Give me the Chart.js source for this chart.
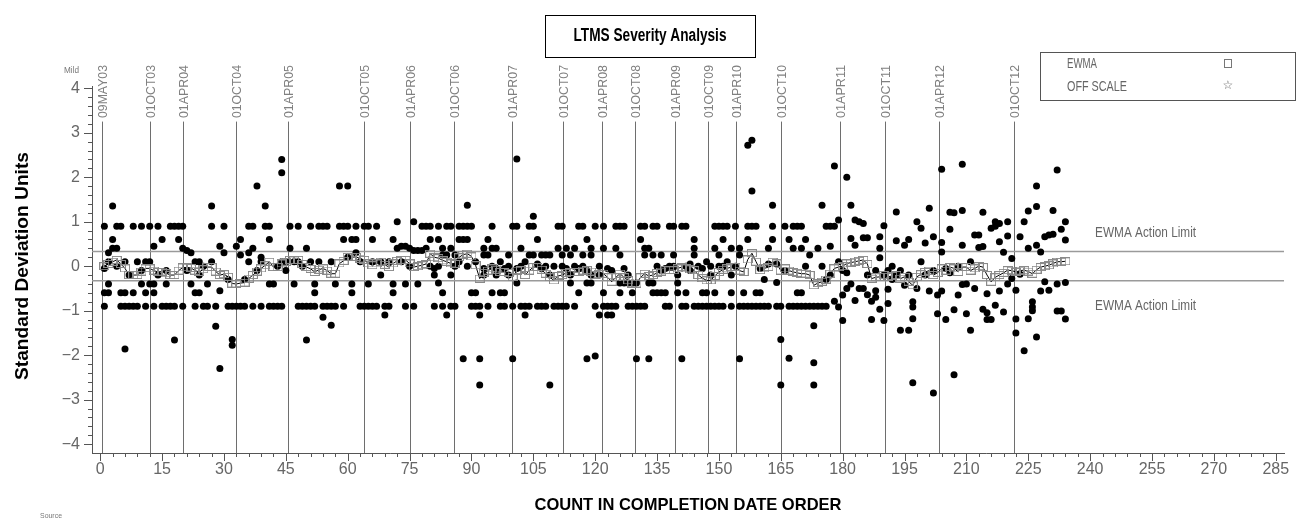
<!DOCTYPE html>
<html>
<head>
<meta charset="utf-8">
<title>LTMS Severity Analysis</title>
<script src="https://cdn.jsdelivr.net/npm/chart.js@4.4.1/dist/chart.umd.min.js"></script>
<style>
  html, body { margin: 0; padding: 0; background: #fff; overflow: hidden; }
  canvas { display: block; }
</style>
</head>
<body>
<canvas id="chart" width="1300" height="518"></canvas>
<script>
// ---- axis ticks -------------------------------------------------------
const xTickValues = [0, 15, 30, 45, 60, 75, 90, 105, 120, 135, 150, 165, 180, 195, 210, 225, 240, 255, 270, 285];
const yTickValues = [-4, -3, -2, -1, 0, 1, 2, 3, 4];

// ---- calendar markers (position in completion-count units) -----------
const dateLabels = ['09MAY03', '01OCT03', '01APR04', '01OCT04', '01APR05', '01OCT05', '01APR06',
  '01OCT06', '01APR07', '01OCT07', '01APR08', '01OCT08', '01APR09', '01OCT09', '01APR10',
  '01OCT10', '01APR11', '01OCT11', '01APR12', '01OCT12'];
const dateCounts = [0.5, 12, 20, 33, 45.6, 63.9, 75.2, 85.8, 99.9, 112.1, 121.6, 129.7,
  139.3, 147.3, 154.1, 165, 179.3, 190.3, 203.4, 221.6];

// ---- EWMA action limits ------------------------------------------------
const actionLimits = [0.33, -0.33];

// ---- severity results per test, in completion order (test 1, 2, ...) ---
const testResults = [
  [0.9,-0.05,-0.6,-0.9], [0.3,0.1,-0.4,-0.6], [1.35,0.6,0.4], [0.9,0.4,0], [0.9,-0.6,-0.9], [0.1,-0.6,-0.9,-1.86],
  [-0.2,-0.9], [0.9,-0.6,-0.9], [0.1,-0.9], [0.9,-0.1,-0.4], [0.1,-0.6,-0.9], [0.9,0.1,-0.4],
  [0.45,-0.4,-0.6,-0.9], [0.9,-0.2], [0.6,-0.9], [-0.1,-0.4,-0.9], [0.9,-0.9], [0.9,-0.9,-1.66],
  [0.9,0.6], [0.9,0.4,-0.9], [0.35,-0.1], [0.3,-0.4], [0.1,-0.6,-0.9], [0.1,-0.2,-0.6],
  [0,-0.9], [-0.4,-0.9], [1.35,0.9,0.1], [-0.9,-1.35], [0.45,-0.55,-2.3], [0.9,0.3],
  [-0.3,-0.9], [-0.9,-1.65,-1.78], [0.45,-0.9], [0.6,0.25,-0.9], [-0.3,-0.9], [0.9,0.3,0.1],
  [0.9,0.4,-0.9], [1.8,-0.1], [0.2,0.1,-0.9], [1.35,0.9], [0.9,0.6,-0.4,-0.9], [-0.4,-0.9],
  [0,-0.9], [2.4,2.1,0.1,-0.9], [0.1,-0.1], [0.9,0.4], [0.1,-0.4], [0.9,0.1,-0.9],
  [0,-0.9], [0.4,-0.9,-1.66], [0.9,0.1,-0.9], [-0.4,-0.6,-0.9], [0.9,0.1], [0.9,-0.9,-1.15],
  [0.9,-0.9], [0.1,-0.9,-1.33], [-0.4,-0.9], [1.8,0.9], [0.9,0.6,-0.9], [1.8,0.9,0.2],
  [0.6,-0.4,-0.6], [0.9,0.6,0.3], [0.1,-0.9], [0.9,-0.9], [0.9,-0.4,-0.9], [0.6,0.1,-0.9],
  [0.9,-0.9], [0.1,-0.2], [-0.9,-1.1], [0.1,-0.9], [0.6,-0.4,-0.6], [1.0,0.4],
  [0.45,0.1], [0.45,-0.4,-0.9], [0.4,0], [1.0,0.35,-0.9], [0.35,-0.4], [0.9,0.35],
  // tests 79 - 157
  [0.9,0.4], [0.9,0.6,0], [-0.05,-0.2,-0.9], [0.9,0.6,0,-0.38], [0.4,0.25,-0.6,-0.9], [0.9,0.25,-1.1],
  [0.9,0.4,-0.2,-0.9], [0.25,0,-0.9], [0.9,0.6,0.1], [0.9,0.6,-2.08], [1.37,0.9,0.6,0], [0.9,-0.6,-0.9],
  [0.1,-0.6,-0.9], [-0.9,-1.1,-2.08,-2.67], [0.4,0.25,-0.05,-0.2], [0.6,0.25,-0.9], [0.9,0.4,0,-0.6], [0.4,-0.05,-0.2],
  [0.1,-0.6,-0.9], [-0.05,-0.6,-0.9], [0.25,0,-0.2], [0.9,-0.9,-2.08], [2.41,0.9,-0.05,-0.38], [0.4,0,-0.9],
  [0.1,-0.9,-1.1], [0.9,0.25,-0.9], [1.12,0.9,0.25], [0.6,0.05,-0.9], [0.25,-0.05,-0.9], [0.25,0,-0.9],
  [0.25,-0.2,-2.67], [0,-0.9], [0.9,0.4,-0.9], [0.9,0.25,0,-0.9], [0.4,-0.05,-0.9], [0.25,-0.2,-0.38],
  [0.4,0,-0.9], [0.9,-0.05,-0.6], [0.9,0.25,0], [0.6,-0.1,-0.38,-2.08], [0.4,0.25,-0.2,-0.38], [0.9,-0.9,-2.02],
  [0,-0.2,-1.1], [0.9,0.4,-0.6,-0.9], [-0.05,-0.9,-1.1], [-0.1,-0.9,-1.1], [0.9,0.4,-0.9], [0.9,0.25,-0.38,-0.6],
  [0.9,-0.05,-0.38], [-0.2,-0.38,-0.9], [-0.38,-0.6,-0.9], [-0.38,-0.9,-2.08], [0.9,0.6,-0.9], [0.9,0.4,0.25,-0.9],
  [0.4,-0.38,-2.08], [0.9,0.25,-0.38,-0.6], [0.9,0,-0.6], [0.25,-0.1,-0.6], [-0.05,-0.6,-0.9], [0.9,0,-0.9],
  [0.9,0.25,0], [-0.2,-0.38,-0.6], [0.9,-0.9,-2.08], [0.9,0,-0.6,-0.9], [0.05,-0.1], [0.6,0.4,0.25,-0.9],
  [0,-0.9], [-0.05,-0.6,-0.9], [0.1,-0.6,-0.9], [0,-0.2,-0.9], [0.9,0.4,-0.6,-0.9], [0.9,0.25,0,-0.9],
  [0.9,0.6,0,-0.9], [0.9,0.1], [0.4,-0.2,-0.6,-0.9], [0.9,0], [0.4,0.25,-0.9,-2.08], [-0.6,-0.9],
  [2.72,0.9,0.6,-0.9],
  // tests 158 - 234
  [2.83,1.69,0.9,-0.9], [0.9,-0.6,-0.9], [-0.05,-0.6,-0.9], [-0.3,-0.9], [0.4,0.05,-0.9],
  [1.37,0.9,0.6], [0.05,-0.37,-0.9], [-0.9,-1.65,-2.67], [0.9,-0.1], [0.6,-0.9,-2.07], [0.9,0.4,-0.9],
  [0.9,-0.6,-0.9], [0.9,0.4,-0.6,-0.9], [0.6,0,-0.9], [0.25,-0.9], [-0.9,-1.34,-2.17,-2.67], [0.4,-0.9],
  [1.37,0,-0.9], [0.9,-0.3,-0.9], [0.9,0.45,-0.2], [2.25,0.9,-0.79], [1.04,0.1,-0.92], [-0.1,-0.65,-1.22],
  [2.0,-0.15,-0.5], [1.37,0.62,-0.4], [1.04,0.47,-0.77], [1.0,-0.5], [0.96,0.64,-0.5], [0.64,-0.2,-0.64],
  [-0.79,-1.2], [-0.1,-0.55,-0.7], [0.66,0.4,0.19,-0.97], [0.91,-0.2,-1.22], [-0.1,-0.52,-0.84], [0,-0.3],
  [1.22,0.57,-0.2], [-0.1,-1.44], [0.47,-0.43], [0.6,-0.2,-1.44], [-0.8,-0.92,-1.18,-2.62], [1.0,-0.5],
  [0.85,0.1], [0.52,-0.2], [1.3,-0.56], [0.66,-0.1,-2.85], [-0.65,-1.07], [2.18,0.53,0.32,-0.56],
  [-0.05,-1.2], [1.21,0.83,-0.15], [1.2,-0.98,-2.44], [0,-0.65], [2.29,1.25,0.47,-0.41], [-0.4,-1.07],
  [0.1,-1.44], [0.7,-0.5], [0.7,0.42], [1.21,0.44,-0.97], [-0.62,-1.05,-1.2], [0.85,-1.2],
  [1.0,0.9,-0.88], [0.96,0.55,-0.56], [0.31,-1.03], [1.0,0.68,-0.4], [0.17,-0.28], [-0.54,-1.19,-1.5],
  [0.66,-0.18], [1.0,-1.9], [1.24,0.4,-1.18], [-0.8,-0.92,-1.0], [1.8,1.34,0.47,-1.59], [0.32,-0.56],
  [0.66,-0.35], [0.7,-0.54], [1.25,0.72], [2.16,-0.4,-1.01], [0.83,-1.01], [1.0,0.59,-0.37,-1.19]
];

// ---- EWMA of the severity, one value per test ---------------------------
const ewma = [
  0.00, 0.05, 0.10, 0.14, 0.05, -0.05, -0.20, -0.20, -0.20, -0.12,
  -0.05, -0.05, -0.10, -0.13, -0.12, -0.16, -0.20, -0.20, -0.10, -0.03,
  -0.03, -0.04, -0.10, -0.13, -0.07, -0.02, -0.02, -0.12, -0.20, -0.18,
  -0.24, -0.39, -0.40, -0.38, -0.37, -0.28, -0.20, -0.12, -0.05, 0.02,
  0.10, -0.02, -0.02, 0.06, 0.10, 0.14, 0.13, 0.14, 0.05, -0.02,
  -0.06, -0.13, -0.08, -0.05, -0.10, -0.17, -0.17, 0.06, 0.12, 0.21,
  0.20, 0.21, 0.17, 0.14, 0.06, 0.02, 0.06, 0.10, 0.03, -0.02,
  0.06, 0.12, 0.14, 0.14, 0.06, -0.02, 0.00, 0.02, 0.05, 0.28,
  0.20, 0.18, 0.13, 0.10, 0.06, 0.05, 0.20, 0.26, 0.28, 0.22,
  0.02, -0.28, -0.15, -0.10, -0.05, -0.08, -0.13, -0.13, -0.15, -0.24,
  -0.10, -0.09, -0.20, -0.10, -0.02, -0.02, -0.08, -0.17, -0.25, -0.32,
  -0.22, -0.20, -0.15, -0.13, -0.13, -0.13, -0.10, -0.09, -0.12, -0.20,
  -0.18, -0.17, -0.25, -0.35, -0.25, -0.17, -0.25, -0.32, -0.39, -0.39,
  -0.25, -0.17, -0.22, -0.20, -0.15, -0.12, -0.09, -0.09, -0.09, -0.05,
  -0.02, -0.05, -0.07, -0.09, -0.20, -0.27, -0.32, -0.32, -0.22, -0.13,
  -0.08, -0.05, -0.02, -0.02, -0.10, -0.13, 0.15, 0.29, 0.10, -0.09,
  -0.05, -0.02, 0.10, 0.06, -0.10, -0.05, -0.10, -0.13, -0.15, -0.17,
  -0.17, -0.20, -0.43, -0.38, -0.35, -0.30, -0.17, -0.05, -0.02, 0.00,
  0.06, 0.08, 0.10, 0.12, 0.14, 0.05, -0.28, -0.25, -0.24, -0.20,
  -0.24, -0.22, -0.20, -0.28, -0.24, -0.35, -0.43, -0.24, -0.18, -0.13,
  -0.10, -0.20, -0.15, -0.05, -0.10, -0.02, -0.05, -0.13, -0.02, -0.02,
  -0.10, -0.05, 0.00, -0.02, -0.20, -0.35, -0.25, -0.20, -0.15, -0.09,
  -0.10, -0.13, -0.10, -0.09, -0.12, -0.17, -0.08, -0.02, 0.00, 0.02,
  0.06, 0.10, 0.10, 0.11
];

// ---- derived point lists --------------------------------------------------
const resultPoints = [];
testResults.forEach((vals, i) => vals.forEach(v => resultPoints.push({ x: i + 1, y: v })));
const ewmaPoints = ewma.map((v, i) => ({ x: i + 1, y: v }));

const X_MIN = -2, X_MAX = 287, Y_MIN = -4.2, Y_MAX = 4.05;

// open rectangle marker for the EWMA
const ewmaMarker = document.createElement('canvas');
ewmaMarker.width = 10; ewmaMarker.height = 8;
(function () {
  const m = ewmaMarker.getContext('2d');
  m.strokeStyle = '#8a8a8a';
  m.lineWidth = 1;
  m.strokeRect(0.5, 0.5, 9, 7);
})();

const SANS = '"Liberation Sans", Arial, sans-serif';

// draws a string squeezed or stretched horizontally to a given width
function fittedText(ctx, text, x, y, width, align) {
  const w = ctx.measureText(text).width;
  ctx.save();
  ctx.translate(x, y);
  ctx.scale(width / w, 1);
  ctx.textAlign = align;
  ctx.fillText(text, 0, 0);
  ctx.restore();
}

const decorations = {
  id: 'decorations',
  beforeDatasetsDraw(chart) {
    const { ctx, chartArea, scales: { x, y } } = chart;
    ctx.save();
    // calendar reference lines with rotated labels
    const lineTop = y.getPixelForValue(3.25);
    ctx.strokeStyle = '#6e6e6e';
    ctx.lineWidth = 1;
    dateCounts.forEach((c, i) => {
      const px = Math.round(x.getPixelForValue(c)) + 0.5;
      ctx.beginPath();
      ctx.moveTo(px, lineTop);
      ctx.lineTo(px, chartArea.bottom);
      ctx.stroke();
      ctx.save();
      ctx.translate(px, y.getPixelForValue(3.33));
      ctx.rotate(-Math.PI / 2);
      ctx.fillStyle = '#808080';
      ctx.font = '13px ' + SANS;
      ctx.textBaseline = 'middle';
      fittedText(ctx, dateLabels[i], 0, 1, 53, 'left');
      ctx.restore();
    });
    ctx.restore();
  },
  afterDraw(chart) {
    const { ctx, chartArea, scales: { x, y } } = chart;
    ctx.save();
    ctx.strokeStyle = '#555';
    ctx.lineWidth = 1;
    // x-axis tick marks (major every 15, minor every 3)
    ctx.beginPath();
    for (let v = 0; v <= 285; v += 3) {
      const px = Math.round(x.getPixelForValue(v)) + 0.5;
      const len = v % 15 === 0 ? 8 : 4;
      ctx.moveTo(px, chartArea.bottom);
      ctx.lineTo(px, chartArea.bottom + len);
    }
    // y-axis tick marks (major every 1, minor every 0.2)
    for (let k = -20; k <= 20; k++) {
      const py = Math.round(y.getPixelForValue(k / 5)) + 0.5;
      const len = k % 5 === 0 ? 8 : 4;
      ctx.moveTo(chartArea.left, py);
      ctx.lineTo(chartArea.left - len, py);
    }
    ctx.stroke();

    // axis titles
    ctx.fillStyle = '#000';
    ctx.textBaseline = 'middle';
    ctx.font = 'bold 17px ' + SANS;
    fittedText(ctx, 'COUNT IN COMPLETION DATE ORDER', (chartArea.left + chartArea.right) / 2, 505, 307, 'center');
    ctx.save();
    ctx.translate(23, 266);
    ctx.rotate(-Math.PI / 2);
    ctx.font = 'bold 18px ' + SANS;
    fittedText(ctx, 'Standard Deviation Units', 0, 0, 228, 'center');
    ctx.restore();

    // action limit labels
    ctx.fillStyle = '#666';
    ctx.font = '14px ' + SANS;
    fittedText(ctx, 'EWMA Action Limit', x.getPixelForValue(241.2), y.getPixelForValue(0.74), 101, 'left');
    fittedText(ctx, 'EWMA Action Limit', x.getPixelForValue(241.2), y.getPixelForValue(-0.9), 101, 'left');

    // title box
    ctx.strokeStyle = '#000';
    ctx.lineWidth = 1;
    ctx.strokeRect(545.5, 15.5, 210, 42);
    ctx.fillStyle = '#000';
    ctx.font = 'bold 18px ' + SANS;
    fittedText(ctx, 'LTMS Severity Analysis', 650, 36, 153, 'center');

    // legend box
    ctx.strokeStyle = '#555';
    ctx.strokeRect(1040.5, 52.5, 255, 48);
    ctx.fillStyle = '#666';
    ctx.font = '14px ' + SANS;
    fittedText(ctx, 'EWMA', 1067, 64, 30, 'left');
    fittedText(ctx, 'OFF SCALE', 1067, 87, 60, 'left');
    ctx.strokeStyle = '#777';
    ctx.strokeRect(1224.5, 59.5, 7, 8);
    ctx.font = '12px "DejaVu Sans", sans-serif';
    ctx.textAlign = 'center';
    ctx.fillText('\u2606', 1228, 86);

    // small annotations
    ctx.fillStyle = '#777';
    ctx.font = '9px ' + SANS;
    fittedText(ctx, 'Mild', 64, 71, 15, 'left');
    ctx.font = '8px ' + SANS;
    fittedText(ctx, 'Source', 40, 516, 22, 'left');
    ctx.restore();
  }
};

const tickFont = { family: SANS, size: 16 };

new Chart(document.getElementById('chart'), {
  type: 'scatter',
  data: {
    datasets: [
      {
        label: 'EWMA',
        data: ewmaPoints,
        showLine: true,
        borderColor: '#000',
        borderWidth: 1,
        pointStyle: ewmaMarker,
        pointRadius: 4,
        tension: 0
      },
      {
        label: 'Results',
        data: resultPoints,
        backgroundColor: '#000',
        borderWidth: 0,
        pointRadius: 3.5
      },
      ...actionLimits.map(v => ({
        label: 'Action limit',
        data: [{ x: X_MIN, y: v }, { x: X_MAX, y: v }],
        showLine: true,
        borderColor: '#9a9a9a',
        borderWidth: 1.5,
        pointRadius: 0
      }))
    ]
  },
  options: {
    responsive: false,
    animation: false,
    devicePixelRatio: 1,
    layout: { padding: { top: 86, right: 16, left: 0, bottom: 0 } },
    plugins: { legend: { display: false }, tooltip: { enabled: false } },
    scales: {
      x: {
        type: 'linear',
        min: X_MIN,
        max: X_MAX,
        afterFit(s) { s.height = 65; },
        afterBuildTicks(s) { s.ticks = xTickValues.map(v => ({ value: v })); },
        grid: { display: false, drawTicks: false },
        border: { display: true, color: '#555', width: 1 },
        ticks: { padding: 7, color: '#666', font: tickFont, maxRotation: 0, autoSkip: false }
      },
      y: {
        type: 'linear',
        min: Y_MIN,
        max: Y_MAX,
        afterFit(s) { s.width = 92; },
        afterBuildTicks(s) { s.ticks = yTickValues.map(v => ({ value: v })); },
        grid: { display: false, drawTicks: false },
        border: { display: true, color: '#555', width: 1 },
        ticks: {
          padding: 12,
          color: '#666',
          font: tickFont,
          callback: v => (v < 0 ? '\u2212' + Math.abs(v) : String(v))
        }
      }
    }
  },
  plugins: [decorations]
});
</script>
</body>
</html>
